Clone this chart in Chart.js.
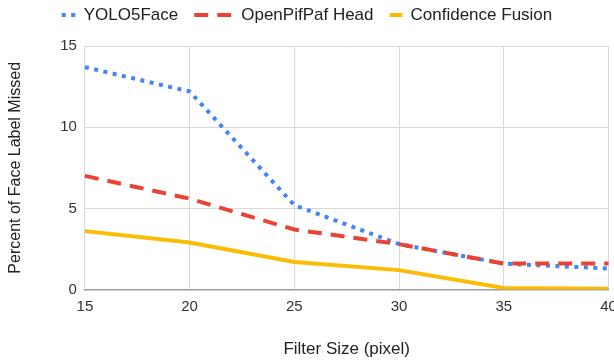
<!DOCTYPE html>
<html>
<head>
<meta charset="utf-8">
<script src="https://cdn.jsdelivr.net/npm/chart.js@4/dist/chart.umd.min.js"></script>
<style>
  html, body { margin: 0; padding: 0; background: #fff; }
</style>
</head>
<body>
<canvas id="missChart" width="614" height="360"></canvas>
<script>
const filterSizes = ['15', '20', '25', '30', '35', '40'];
const yolo5Face = [13.7, 12.2, 5.2, 2.8, 1.6, 1.3];
const openPifPafHead = [7.0, 5.6, 3.7, 2.8, 1.6, 1.6];
const confidenceFusion = [3.6, 2.9, 1.7, 1.2, 0.1, 0.05];
const yMax = 15;
const yStep = 5;

// swatch length for each legend entry
const swatchLengths = [14, 39, 13];

const FONT = '"Liberation Sans", Arial, sans-serif';
Chart.defaults.font.family = FONT;

// legend row drawn above the plot, centred on the canvas
const topLegend = {
    id: 'topLegend',
    afterDraw(chart) {
        const ctx = chart.ctx;
        ctx.save();
        ctx.font = '17px ' + FONT;
        ctx.textBaseline = 'middle';
        const gap = 8, spacing = 16, y = 15;
        const items = chart.data.datasets.map((ds, i) => ({
            ds: ds,
            sw: swatchLengths[i],
            tw: ctx.measureText(ds.label).width
        }));
        const total = items.reduce((s, it) => s + it.sw + gap + it.tw, 0) + spacing * (items.length - 1);
        let x = (chart.width - total) / 2;
        items.forEach(it => {
            ctx.strokeStyle = it.ds.borderColor;
            ctx.lineWidth = it.ds.borderWidth;
            ctx.setLineDash(it.ds.borderDash || []);
            ctx.beginPath();
            ctx.moveTo(x, y);
            ctx.lineTo(x + it.sw, y);
            ctx.stroke();
            ctx.setLineDash([]);
            x += it.sw + gap;
            ctx.fillStyle = '#222';
            ctx.fillText(it.ds.label, x, y);
            x += it.tw + spacing;
        });
        ctx.restore();
    }
};

const ctx = document.getElementById('missChart').getContext('2d');
const myChart = new Chart(ctx, {
    type: 'line',
    data: {
        labels: filterSizes,
        datasets: [
            {
                label: 'YOLO5Face',
                data: yolo5Face,
                borderColor: '#4285F4',
                borderWidth: 4,
                borderDash: [4, 5.5],
                order: 3
            },
            {
                label: 'OpenPifPaf Head',
                data: openPifPafHead,
                borderColor: '#EA4335',
                borderWidth: 4,
                borderDash: [14, 9],
                order: 2
            },
            {
                label: 'Confidence Fusion',
                data: confidenceFusion,
                borderColor: '#FBBC04',
                borderWidth: 4,
                order: 1
            }
        ]
    },
    options: {
        responsive: false,
        animation: false,
        elements: {
            point: { radius: 0, hoverRadius: 0 },
            line: { tension: 0, fill: false }
        },
        layout: {
            padding: { top: 46, right: 0, bottom: 0, left: 0 }
        },
        plugins: {
            legend: { display: false },
            tooltip: { enabled: false }
        },
        scales: {
            x: {
                offset: false,
                grid: { color: '#d9d9d9', drawTicks: false },
                border: { color: '#9e9e9e', width: 1.5 },
                ticks: { padding: 8, color: '#333', font: { size: 15 }, maxRotation: 0 },
                title: {
                    display: true,
                    text: 'Filter Size (pixel)',
                    color: '#222',
                    font: { size: 17 },
                    padding: { top: 16, bottom: 0 }
                },
                afterFit(scale) {
                    scale.paddingRight = 5.5;
                }
            },
            y: {
                min: 0,
                max: yMax,
                grid: { color: '#d9d9d9', drawTicks: false },
                border: { display: false },
                ticks: { stepSize: yStep, padding: 8, color: '#333', font: { size: 15 } },
                title: {
                    display: true,
                    text: 'Percent of Face Label Missed',
                    color: '#222',
                    font: { size: 16 },
                    padding: { top: 6, bottom: 27 }
                }
            }
        }
    },
    plugins: [topLegend]
});
</script>
</body>
</html>
